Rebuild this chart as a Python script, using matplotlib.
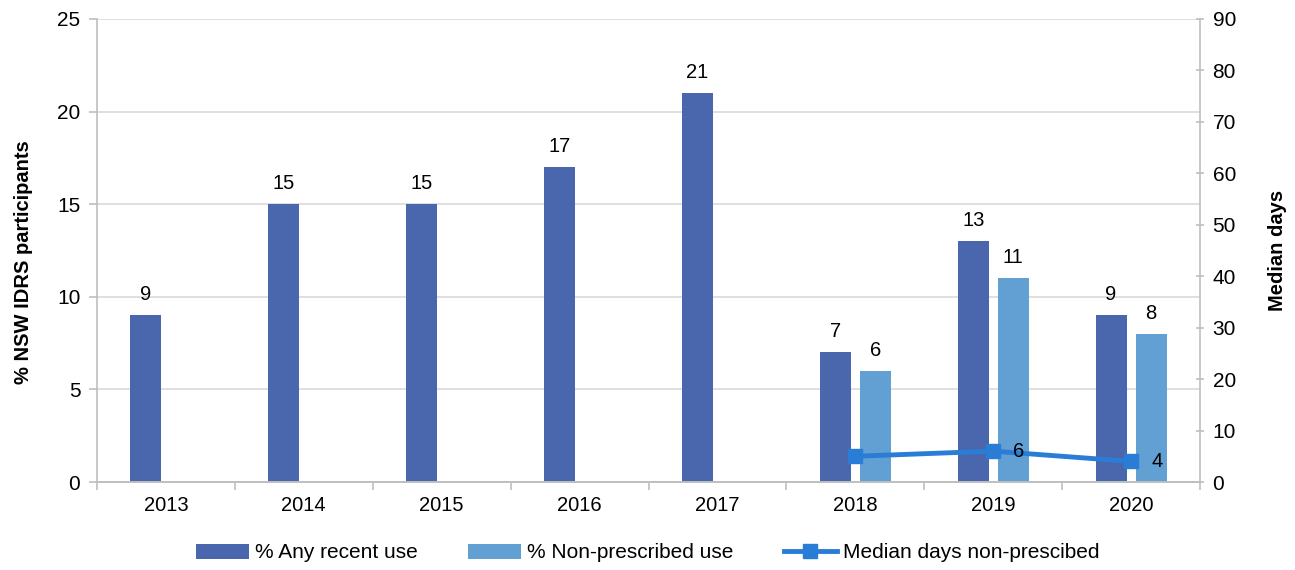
import numpy as np
import matplotlib.pyplot as plt

years = ['2013', '2014', '2015', '2016', '2017', '2018', '2019', '2020']
any_use = [9, 15, 15, 17, 21, 7, 13, 9]
nonpres = [np.nan, np.nan, np.nan, np.nan, np.nan, 6, 11, 8]
median_days = [np.nan, np.nan, np.nan, np.nan, np.nan, 5, 6, 4]
median_labels = [None, None, None, None, None, None, '6', '4']

c_dark = '#4A66AC'
c_light = '#629FD3'
c_line = '#2A7DD6'
grey = '#BFBFBF'

plt.rcParams['font.family'] = ['Arial', 'Liberation Sans', 'DejaVu Sans']

fig = plt.figure(figsize=(12.95, 5.7), dpi=100)
ax = fig.add_axes([97/1295, 1-482/570, (1200-97)/1295, (482-19)/570])
ax2 = ax.twinx()

x = np.arange(len(years))
w = 0.225
off = 0.145

ax.bar(x - off, any_use, w, color=c_dark, label='% Any recent use', zorder=2)
ax.bar(x + off, nonpres, w, color=c_light, label='% Non-prescribed use', zorder=2)

for xi, v in zip(x, any_use):
    ax.text(xi - off, v + 0.6, str(v), ha='center', va='bottom', fontsize=14.5)
for xi, v in zip(x, nonpres):
    if not np.isnan(v):
        ax.text(xi + off, v + 0.6, str(int(v)), ha='center', va='bottom', fontsize=14.5)

ax2.plot(x, median_days, color=c_line, lw=3.5, marker='s', ms=10.5,
         label='Median days non-prescibed', zorder=3)
for xi, v, lab in zip(x, median_days, median_labels):
    if lab:
        ax2.text(xi + 0.145, v, lab, ha='left', va='center', fontsize=14.5)

ax.set_xlim(-0.5, len(years) - 0.5)
ax.set_ylim(0, 25)
ax.set_yticks(range(0, 26, 5))
ax2.set_ylim(0, 90)
ax2.set_yticks(range(0, 91, 10))

ax.set_xticks(x)
ax.set_xticklabels(years)
ax.set_xticks(np.arange(-0.5, len(years), 1), minor=True)
ax.tick_params(axis='x', which='major', length=0, pad=10, labelsize=14.5)
ax.tick_params(axis='x', which='minor', length=6, color=grey, width=1.2)
ax.tick_params(axis='y', length=6, color=grey, width=1.2, labelsize=15, pad=6)
ax2.tick_params(axis='y', length=6, color=grey, width=1.2, labelsize=15, pad=6, direction='inout')

ax.grid(axis='y', color='#D9D9D9', lw=1.2, zorder=0)
ax.set_axisbelow(True)

for a in (ax, ax2):
    a.spines['top'].set_visible(False)
    for s in ('bottom', 'left', 'right'):
        a.spines[s].set_color(grey)
        a.spines[s].set_linewidth(1.2)
ax.spines['right'].set_visible(False)
ax2.spines['left'].set_visible(False)

ax.set_ylabel('% NSW IDRS participants', fontsize=14.5, fontweight='bold')
ax2.set_ylabel('Median days', fontsize=14.5, fontweight='bold')
ax.yaxis.set_label_coords(-0.058, 0.475)
ax2.yaxis.set_label_coords(1.0617, 0.5)

h1, l1 = ax.get_legend_handles_labels()
h2, l2 = ax2.get_legend_handles_labels()
fig.legend(h1 + h2, l1 + l2, loc='center', bbox_to_anchor=(0.5, 1 - 553/570),
           ncol=3, frameon=False, fontsize=15, handlelength=2.55, columnspacing=2.4,
           handletextpad=0.3)

fig.savefig('out.png', dpi=100)
